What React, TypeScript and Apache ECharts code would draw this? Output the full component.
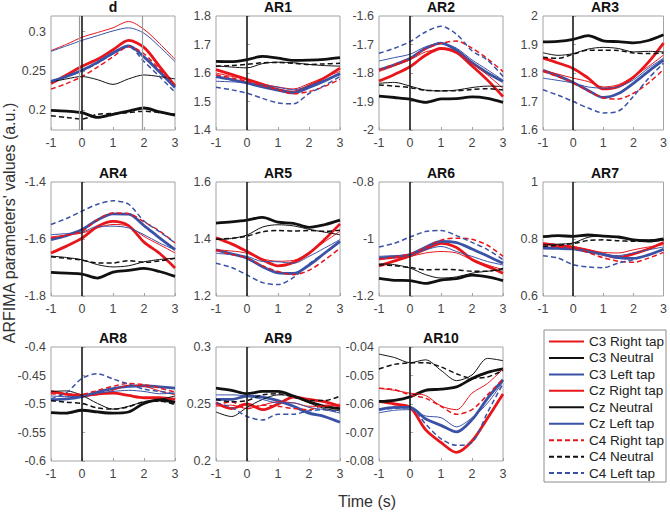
import { useEffect, useRef } from "react";
import * as echarts from "echarts";

// ---------- data ----------
const timeS = [-1, -0.5, 0, 0.5, 1, 1.5, 2, 2.5, 3];
const xTicks = [-1, 0, 1, 2, 3];
const seriesNames = [
  "C3 Right tap", "C3 Neutral", "C3 Left tap",
  "Cz Right tap", "Cz Neutral", "Cz Left tap",
  "C4 Right tap", "C4 Neutral", "C4 Left tap",
];
const panelTitles = ["d", "AR1", "AR2", "AR3", "AR4", "AR5", "AR6", "AR7", "AR8", "AR9", "AR10"];
const yMins = [0.175, 1.4, -2, 1.6, -1.8, 1.2, -1.2, 0.6, -0.6, 0.2, -0.08];
const yMaxs = [0.32, 1.8, -1.6, 2, -1.4, 1.6, -0.8, 1, -0.4, 0.3, -0.04];
const yTickLabels = [
  [0.2, 0.25, 0.3],
  [1.4, 1.5, 1.6, 1.7, 1.8],
  [-2, -1.9, -1.8, -1.7, -1.6],
  [1.6, 1.7, 1.8, 1.9, 2],
  [-1.8, -1.6, -1.4],
  [1.2, 1.4, 1.6],
  [-1.2, -1, -0.8],
  [0.6, 0.8, 1],
  [-0.6, -0.55, -0.5, -0.45, -0.4],
  [0.2, 0.25, 0.3],
  [-0.08, -0.07, -0.06, -0.05, -0.04],
];
const eventLinesD = [-0.08, 1.93];

const dVals = [
  [0.234, 0.245, 0.256, 0.265, 0.277, 0.289, 0.280, 0.256, 0.231],
  [0.200, 0.199, 0.197, 0.191, 0.195, 0.199, 0.203, 0.198, 0.194],
  [0.237, 0.243, 0.251, 0.261, 0.273, 0.282, 0.268, 0.249, 0.229],
  [0.276, 0.284, 0.293, 0.299, 0.305, 0.313, 0.303, 0.285, 0.265],
  [0.236, 0.240, 0.243, 0.239, 0.233, 0.240, 0.245, 0.243, 0.240],
  [0.275, 0.282, 0.289, 0.295, 0.301, 0.305, 0.298, 0.281, 0.262],
  [0.227, 0.234, 0.243, 0.255, 0.268, 0.281, 0.272, 0.252, 0.232],
  [0.193, 0.191, 0.189, 0.195, 0.196, 0.197, 0.199, 0.197, 0.195],
  [0.236, 0.243, 0.250, 0.260, 0.272, 0.281, 0.262, 0.243, 0.223],
];
const ar1Vals = [
  [1.612, 1.595, 1.578, 1.560, 1.542, 1.533, 1.555, 1.583, 1.617],
  [1.641, 1.640, 1.647, 1.658, 1.652, 1.644, 1.645, 1.648, 1.654],
  [1.587, 1.577, 1.565, 1.551, 1.540, 1.530, 1.549, 1.572, 1.598],
  [1.600, 1.588, 1.577, 1.562, 1.551, 1.544, 1.563, 1.585, 1.606],
  [1.625, 1.621, 1.618, 1.633, 1.638, 1.636, 1.630, 1.626, 1.624],
  [1.571, 1.569, 1.566, 1.558, 1.550, 1.541, 1.555, 1.575, 1.594],
  [1.594, 1.583, 1.571, 1.556, 1.541, 1.527, 1.535, 1.553, 1.578],
  [1.624, 1.626, 1.630, 1.636, 1.637, 1.634, 1.630, 1.632, 1.634],
  [1.550, 1.541, 1.529, 1.511, 1.495, 1.492, 1.528, 1.556, 1.588],
];
const ar2Vals = [
  [-1.828, -1.805, -1.778, -1.738, -1.714, -1.728, -1.775, -1.825, -1.883],
  [-1.881, -1.886, -1.892, -1.903, -1.891, -1.890, -1.884, -1.889, -1.903],
  [-1.789, -1.771, -1.749, -1.714, -1.695, -1.720, -1.764, -1.800, -1.830],
  [-1.795, -1.775, -1.754, -1.726, -1.717, -1.726, -1.766, -1.807, -1.854],
  [-1.836, -1.833, -1.846, -1.860, -1.863, -1.860, -1.851, -1.846, -1.847],
  [-1.758, -1.746, -1.734, -1.708, -1.695, -1.713, -1.754, -1.789, -1.825],
  [-1.789, -1.770, -1.749, -1.716, -1.696, -1.688, -1.713, -1.750, -1.795],
  [-1.842, -1.846, -1.851, -1.861, -1.862, -1.862, -1.858, -1.855, -1.860],
  [-1.731, -1.713, -1.690, -1.656, -1.636, -1.664, -1.722, -1.755, -1.812],
];
const ar3Vals = [
  [1.852, 1.835, 1.816, 1.782, 1.744, 1.752, 1.785, 1.838, 1.905],
  [1.909, 1.911, 1.918, 1.931, 1.913, 1.910, 1.906, 1.914, 1.934],
  [1.809, 1.790, 1.767, 1.739, 1.714, 1.728, 1.764, 1.806, 1.845],
  [1.809, 1.796, 1.782, 1.770, 1.751, 1.759, 1.788, 1.823, 1.863],
  [1.871, 1.862, 1.868, 1.884, 1.890, 1.886, 1.874, 1.876, 1.874],
  [1.782, 1.774, 1.765, 1.751, 1.747, 1.751, 1.776, 1.817, 1.852],
  [1.805, 1.787, 1.765, 1.737, 1.713, 1.709, 1.729, 1.765, 1.812],
  [1.855, 1.852, 1.866, 1.880, 1.880, 1.879, 1.870, 1.868, 1.870],
  [1.741, 1.722, 1.700, 1.677, 1.660, 1.666, 1.718, 1.781, 1.834],
];
const ar4Vals = [
  [-1.649, -1.625, -1.597, -1.556, -1.538, -1.553, -1.611, -1.650, -1.702],
  [-1.717, -1.720, -1.723, -1.737, -1.716, -1.710, -1.703, -1.714, -1.731],
  [-1.602, -1.588, -1.567, -1.533, -1.512, -1.513, -1.553, -1.596, -1.637],
  [-1.593, -1.586, -1.579, -1.561, -1.549, -1.555, -1.591, -1.620, -1.649],
  [-1.660, -1.665, -1.673, -1.690, -1.698, -1.694, -1.680, -1.672, -1.667],
  [-1.585, -1.581, -1.576, -1.556, -1.555, -1.561, -1.585, -1.614, -1.638],
  [-1.596, -1.587, -1.573, -1.532, -1.509, -1.511, -1.540, -1.572, -1.614],
  [-1.662, -1.668, -1.674, -1.684, -1.684, -1.676, -1.682, -1.677, -1.668],
  [-1.549, -1.528, -1.502, -1.478, -1.466, -1.478, -1.537, -1.574, -1.614],
];
const ar5Vals = [
  [1.404, 1.383, 1.356, 1.327, 1.306, 1.318, 1.350, 1.398, 1.453],
  [1.456, 1.460, 1.466, 1.476, 1.459, 1.455, 1.441, 1.450, 1.466],
  [1.362, 1.348, 1.333, 1.303, 1.281, 1.279, 1.308, 1.350, 1.392],
  [1.362, 1.358, 1.350, 1.330, 1.322, 1.325, 1.352, 1.390, 1.427],
  [1.398, 1.402, 1.414, 1.442, 1.450, 1.446, 1.434, 1.424, 1.415],
  [1.350, 1.345, 1.339, 1.321, 1.320, 1.315, 1.339, 1.368, 1.398],
  [1.360, 1.346, 1.333, 1.306, 1.286, 1.275, 1.290, 1.326, 1.368],
  [1.400, 1.402, 1.410, 1.425, 1.430, 1.428, 1.430, 1.427, 1.431],
  [1.315, 1.300, 1.274, 1.247, 1.240, 1.265, 1.313, 1.350, 1.390],
];
const ar6Vals = [
  [-1.094, -1.077, -1.059, -1.036, -1.015, -1.030, -1.072, -1.096, -1.120],
  [-1.138, -1.145, -1.146, -1.156, -1.144, -1.139, -1.127, -1.133, -1.146],
  [-1.067, -1.063, -1.055, -1.029, -1.008, -1.013, -1.035, -1.060, -1.085],
  [-1.073, -1.067, -1.061, -1.049, -1.044, -1.049, -1.073, -1.091, -1.108],
  [-1.087, -1.090, -1.102, -1.125, -1.137, -1.133, -1.120, -1.113, -1.108],
  [-1.061, -1.058, -1.055, -1.038, -1.026, -1.044, -1.061, -1.079, -1.091],
  [-1.071, -1.063, -1.052, -1.030, -1.004, -0.997, -1.001, -1.022, -1.061],
  [-1.090, -1.094, -1.100, -1.108, -1.107, -1.108, -1.113, -1.113, -1.103],
  [-1.028, -1.015, -0.993, -0.974, -0.970, -0.988, -1.012, -1.037, -1.073],
];
const ar7Vals = [
  [0.784, 0.777, 0.771, 0.760, 0.746, 0.735, 0.748, 0.765, 0.788],
  [0.808, 0.812, 0.809, 0.814, 0.810, 0.807, 0.797, 0.793, 0.800],
  [0.768, 0.767, 0.765, 0.756, 0.746, 0.735, 0.732, 0.744, 0.764],
  [0.786, 0.780, 0.774, 0.762, 0.753, 0.751, 0.762, 0.772, 0.780],
  [0.780, 0.782, 0.786, 0.806, 0.811, 0.806, 0.798, 0.797, 0.797],
  [0.772, 0.770, 0.768, 0.756, 0.745, 0.742, 0.751, 0.762, 0.772],
  [0.776, 0.772, 0.768, 0.752, 0.734, 0.722, 0.718, 0.733, 0.753],
  [0.774, 0.778, 0.784, 0.795, 0.797, 0.794, 0.792, 0.792, 0.797],
  [0.741, 0.733, 0.710, 0.702, 0.699, 0.716, 0.727, 0.745, 0.762],
];
const ar8Vals = [
  [-0.478, -0.483, -0.485, -0.482, -0.481, -0.485, -0.489, -0.489, -0.492],
  [-0.515, -0.516, -0.511, -0.514, -0.516, -0.514, -0.499, -0.493, -0.497],
  [-0.493, -0.491, -0.487, -0.479, -0.473, -0.469, -0.468, -0.470, -0.472],
  [-0.479, -0.482, -0.486, -0.484, -0.476, -0.467, -0.469, -0.477, -0.484],
  [-0.478, -0.477, -0.485, -0.499, -0.509, -0.504, -0.496, -0.492, -0.486],
  [-0.486, -0.487, -0.486, -0.481, -0.478, -0.476, -0.478, -0.482, -0.481],
  [-0.482, -0.483, -0.483, -0.476, -0.469, -0.464, -0.466, -0.472, -0.479],
  [-0.494, -0.497, -0.499, -0.507, -0.509, -0.505, -0.496, -0.495, -0.501],
  [-0.491, -0.480, -0.455, -0.447, -0.456, -0.465, -0.474, -0.478, -0.482],
];
const ar9Vals = [
  [0.251, 0.246, 0.250, 0.245, 0.250, 0.256, 0.254, 0.252, 0.248],
  [0.264, 0.262, 0.259, 0.261, 0.261, 0.257, 0.252, 0.248, 0.246],
  [0.254, 0.254, 0.257, 0.256, 0.253, 0.248, 0.242, 0.239, 0.234],
  [0.248, 0.249, 0.246, 0.249, 0.252, 0.251, 0.248, 0.248, 0.250],
  [0.243, 0.239, 0.247, 0.254, 0.258, 0.257, 0.251, 0.246, 0.244],
  [0.258, 0.258, 0.257, 0.254, 0.251, 0.251, 0.247, 0.245, 0.242],
  [0.249, 0.252, 0.246, 0.249, 0.248, 0.246, 0.245, 0.249, 0.248],
  [0.254, 0.252, 0.253, 0.258, 0.259, 0.256, 0.253, 0.253, 0.257],
  [0.251, 0.247, 0.239, 0.236, 0.241, 0.241, 0.244, 0.245, 0.243],
];
const ar10Vals = [
  [-0.0591, -0.0600, -0.0611, -0.0690, -0.0735, -0.0770, -0.0730, -0.0650, -0.0565],
  [-0.0591, -0.0587, -0.0575, -0.0552, -0.0548, -0.0540, -0.0511, -0.0489, -0.0477],
  [-0.0620, -0.0612, -0.0612, -0.0652, -0.0675, -0.0698, -0.0655, -0.0580, -0.0515],
  [-0.0545, -0.0552, -0.0562, -0.0570, -0.0607, -0.0620, -0.0562, -0.0528, -0.0477],
  [-0.0425, -0.0437, -0.0455, -0.0445, -0.0482, -0.0518, -0.0498, -0.0440, -0.0448],
  [-0.0631, -0.0622, -0.0620, -0.0642, -0.0648, -0.0680, -0.0648, -0.0597, -0.0522],
  [-0.0545, -0.0550, -0.0568, -0.0580, -0.0608, -0.0636, -0.0620, -0.0568, -0.0512],
  [-0.0477, -0.0461, -0.0456, -0.0455, -0.0470, -0.0494, -0.0510, -0.0505, -0.0482],
  [-0.0620, -0.0615, -0.0612, -0.0670, -0.0722, -0.0745, -0.0735, -0.0630, -0.0528],
];
const panelValues = [dVals, ar1Vals, ar2Vals, ar3Vals, ar4Vals, ar5Vals, ar6Vals, ar7Vals, ar8Vals, ar9Vals, ar10Vals];

// ---------- layout / style ----------
const COL_LEFT = [51, 216, 379, 543];
const ROW_TOP = [16, 182, 347];
const PW = 124;
const PH = 114;
const FONT = "Liberation Sans, Arial, sans-serif";
const RED = "#e8161b";
const BLACK = "#111111";
const BLUE = "#3a52a6";
const BOX = "#a3a3a3";
const LABEL = "#444444";

const fmt = (v: number) => String(parseFloat(Number(v).toFixed(4)));

function lineStyleFor(s: number) {
  const color = [RED, BLACK, BLUE][s % 3];
  const group = Math.floor(s / 3);
  if (group === 0) return { color, width: 2.8, type: "solid" as const };
  if (group === 1) return { color, width: 1, type: "solid" as const };
  return { color, width: 1.5, type: [5, 3] as any };
}

function buildOption() {
  const grids: any[] = [];
  const xAxes: any[] = [];
  const yAxes: any[] = [];
  const series: any[] = [];
  const graphics: any[] = [];

  panelTitles.forEach((title, i) => {
    const left = COL_LEFT[i % 4];
    const top = ROW_TOP[Math.floor(i / 4)];
    grids.push({ left, top, width: PW, height: PH, show: true, borderColor: BOX, borderWidth: 1, backgroundColor: "transparent" });
    xAxes.push({
      gridIndex: i, type: "value", min: -1, max: 3,
      axisLine: { show: false },
      splitLine: { show: false },
      axisTick: { show: true, inside: true, length: 3, customValues: xTicks, lineStyle: { color: BOX } },
      axisLabel: { customValues: xTicks, formatter: (v: number) => fmt(v), color: LABEL, fontSize: 12.5, fontFamily: FONT, margin: 6 },
    });
    yAxes.push({
      gridIndex: i, type: "value", min: yMins[i], max: yMaxs[i],
      axisLine: { show: false },
      splitLine: { show: false },
      axisTick: { show: true, inside: true, length: 3, customValues: yTickLabels[i], lineStyle: { color: BOX } },
      axisLabel: { customValues: yTickLabels[i], formatter: (v: number) => fmt(v), color: LABEL, fontSize: 12.5, fontFamily: FONT, margin: 5 },
    });
    graphics.push({
      type: "text", x: left + PW / 2, y: top - 9,
      style: { text: title, fontSize: 14, fontWeight: "bold", fontFamily: FONT, fill: "#111", align: "center", verticalAlign: "middle", textAlign: "center", textVerticalAlign: "middle" },
    });

    const vals = panelValues[i];
    seriesNames.forEach((name, s) => {
      const ls = lineStyleFor(s);
      const ser: any = {
        type: "line", name, xAxisIndex: i, yAxisIndex: i,
        data: timeS.map((t, k) => [t, vals[s][k]]),
        showSymbol: false, symbol: "none", smooth: 0.3, silent: true,
        color: ls.color, lineStyle: ls, itemStyle: { opacity: 0 }, z: 2,
      };
      if (s === 0) {
        const mdata: any[] = [];
        if (i === 0) {
          eventLinesD.forEach((x) => mdata.push({ xAxis: x, lineStyle: { color: "#9a9a9a", width: 1.2, type: "solid" } }));
        }
        mdata.push({ xAxis: 0, lineStyle: { color: "#1a1a1a", width: 1.6, type: "solid" } });
        ser.markLine = { silent: true, symbol: ["none", "none"], label: { show: false }, animation: false, data: mdata };
      }
      series.push(ser);
    });
  });

  graphics.push({
    type: "text", x: 9, y: 223, rotation: Math.PI / 2,
    style: { text: "ARFIMA parameters' values (a.u.)", fontSize: 16, fontFamily: FONT, fill: "#333", align: "center", verticalAlign: "middle", textAlign: "center", textVerticalAlign: "middle" },
  });
  graphics.push({
    type: "text", x: 367, y: 501,
    style: { text: "Time (s)", fontSize: 16, fontFamily: FONT, fill: "#333", align: "center", verticalAlign: "middle", textAlign: "center", textVerticalAlign: "middle" },
  });
  graphics.push({
    type: "rect", shape: { x: 544, y: 330, width: 122, height: 152 },
    style: { fill: "none", stroke: "#8c8c8c", lineWidth: 1 }, z: -1,
  });

  return {
    animation: false,
    backgroundColor: "#ffffff",
    grid: grids,
    xAxis: xAxes,
    yAxis: yAxes,
    series,
    graphic: graphics,
    legend: {
      data: seriesNames, orient: "vertical", left: 548, top: 334.5,
      itemWidth: 35, itemHeight: 14, itemGap: 2.45, padding: 0, selectedMode: false,
      itemStyle: { opacity: 0 },
      textStyle: { fontSize: 13.5, fontFamily: FONT, color: "#222" },
    },
  };
}

export default function App() {
  const ref = useRef<HTMLDivElement>(null);
  useEffect(() => {
    if (!ref.current) return;
    const chart = echarts.init(ref.current, null, { renderer: "svg" });
    chart.setOption(buildOption() as any);
    return () => chart.dispose();
  }, []);
  return <div ref={ref} style={{ position: "fixed", left: 0, top: 0, width: 670, height: 512 }} />;
}
